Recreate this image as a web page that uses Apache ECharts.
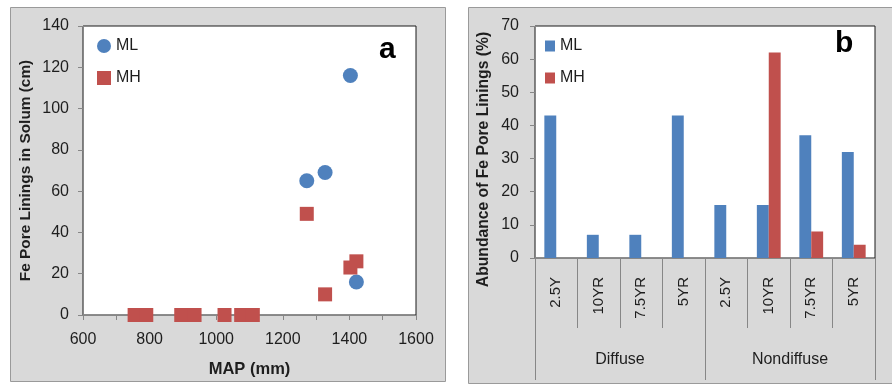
<!DOCTYPE html>
<html>
<head>
<meta charset="utf-8">
<script src="https://cdn.jsdelivr.net/npm/echarts@6/dist/echarts.min.js"></script>
<style>
  html, body { margin: 0; padding: 0; background: #ffffff; }
  #chart { width: 892px; height: 386px; }
</style>
</head>
<body>
<div id="chart"></div>
<script>
// Panel a: Fe pore linings in solum vs. mean annual precipitation
const mlMap = [1272, 1327, 1403, 1421];
const mlDepth = [65, 69, 116, 16];
const mhMap = [755, 790, 895, 935, 1025, 1075, 1110, 1272, 1327, 1403, 1421];
const mhDepth = [0, 0, 0, 0, 0, 0, 0, 49, 10, 23, 26];

// Panel b: abundance of Fe pore linings by hue and boundary type
const hueLabels = ['2.5Y', '10YR', '7.5YR', '5YR', '2.5Y', '10YR', '7.5YR', '5YR'];
const boundaryGroups = ['Diffuse', 'Nondiffuse'];
const mlAbundance = [43, 7, 7, 43, 16, 16, 37, 32];
const mhAbundance = [0, 0, 0, 0, 0, 62, 8, 4];

const BLUE = '#4F81BD';
const RED = '#C0504D';
const FONT = 'Liberation Sans';
const TXT = '#1e1e1e';
const AXIS = '#878787';

const pairs = (xs, ys) => xs.map((x, i) => [x, ys[i]]);

const chart = echarts.init(document.getElementById('chart'), null, { renderer: 'canvas' });

chart.setOption({
  animation: false,
  textStyle: { fontFamily: FONT },
  graphic: [
    { type: 'rect', z: -10, shape: { x: 10.5, y: 7.5, width: 435, height: 374 },
      style: { fill: '#D9D9D9', stroke: '#9a9a9a', lineWidth: 1 } },
    { type: 'rect', z: -10, shape: { x: 468.5, y: 7.5, width: 430, height: 376 },
      style: { fill: '#D9D9D9', stroke: '#9a9a9a', lineWidth: 1 } },
    { type: 'text', left: 379, top: 35, z: 10,
      style: { text: 'a', font: 'bold 30px ' + FONT, fill: '#000' } },
    { type: 'text', left: 835, top: 29, z: 10,
      style: { text: 'b', font: 'bold 30px ' + FONT, fill: '#000' } },
    // panel b value-axis title, centred on the full panel height below the plot
    { type: 'text', x: 484, y: 159.5, rotation: Math.PI / 2, z: 10,
      style: { text: 'Abundance of Fe Pore Linings (%)', font: 'bold 15.7px ' + FONT,
               fill: TXT, align: 'center', verticalAlign: 'middle' } }
  ],
  legend: [
    { orient: 'vertical', left: 97, top: 38, padding: 0, itemWidth: 14, itemHeight: 14, itemGap: 16,
      textStyle: { fontSize: 16, color: TXT, fontFamily: FONT },
      data: ['ML', 'MH'].map(n => ({ name: n })),
      selectedMode: false },
    { orient: 'vertical', left: 545, top: 38, padding: 0, itemWidth: 10, itemHeight: 11, itemGap: 16,
      textStyle: { fontSize: 16, color: TXT, fontFamily: FONT },
      data: [{ name: 'ML ', icon: 'rect' }, { name: 'MH ', icon: 'rect' }],
      formatter: n => n.trim(),
      selectedMode: false }
  ],
  grid: [
    { left: 83, top: 26, width: 333, height: 289, show: true,
      backgroundColor: '#ffffff', borderColor: '#1a1a1a', borderWidth: 1 },
    { left: 535, top: 26, width: 340, height: 232, show: true,
      backgroundColor: '#ffffff', borderColor: '#1a1a1a', borderWidth: 1 }
  ],
  xAxis: [
    { type: 'value', gridIndex: 0, min: 600, max: 1600, interval: 200,
      name: 'MAP (mm)', nameLocation: 'middle', nameGap: 46,
      nameTextStyle: { fontSize: 16.5, fontWeight: 'bold', color: TXT },
      axisLine: { lineStyle: { color: AXIS } },
      axisTick: { show: true, length: 5, lineStyle: { color: AXIS } },
      minorTick: { show: true, splitNumber: 2, length: 5, lineStyle: { color: AXIS } },
      splitLine: { show: false },
      axisLabel: { fontSize: 16, color: TXT, margin: 17, formatter: v => String(v) } },
    { type: 'category', gridIndex: 1, data: hueLabels, position: 'bottom',
      axisLine: { lineStyle: { color: AXIS } },
      axisTick: { show: true, length: 70, lineStyle: { color: AXIS } },
      axisLabel: { rotate: 90, fontSize: 15, color: TXT, margin: 19, interval: 0 } },
    { type: 'category', gridIndex: 1, data: boundaryGroups, position: 'bottom',
      axisLine: { show: false },
      axisTick: { show: true, length: 122, lineStyle: { color: AXIS } },
      axisLabel: { fontSize: 16, color: TXT, margin: 94 } }
  ],
  yAxis: [
    { type: 'value', gridIndex: 0, min: 0, max: 140, interval: 20,
      name: 'Fe Pore Linings in Solum (cm)', nameLocation: 'middle', nameGap: 50,
      nameTextStyle: { fontSize: 15.4, fontWeight: 'bold', color: TXT },
      axisLine: { show: true, lineStyle: { color: AXIS } },
      axisTick: { show: true, length: 5, lineStyle: { color: AXIS } },
      splitLine: { show: false },
      axisLabel: { fontSize: 16, color: TXT, margin: 14 } },
    { type: 'value', gridIndex: 1, min: 0, max: 70, interval: 10,
      axisLine: { show: true, lineStyle: { color: AXIS } },
      axisTick: { show: true, length: 5, lineStyle: { color: AXIS } },
      splitLine: { show: false },
      axisLabel: { fontSize: 16, color: TXT, margin: 16 } }
  ],
  series: [
    { name: 'ML', type: 'scatter', xAxisIndex: 0, yAxisIndex: 0, symbol: 'circle', symbolSize: 15,
      itemStyle: { color: BLUE, opacity: 1 },
      data: pairs(mlMap, mlDepth) },
    { name: 'MH', type: 'scatter', xAxisIndex: 0, yAxisIndex: 0, symbol: 'rect', symbolSize: 14,
      itemStyle: { color: RED, opacity: 1 },
      data: pairs(mhMap, mhDepth) },
    { name: 'ML ', type: 'bar', xAxisIndex: 1, yAxisIndex: 1,
      barGap: '0%', barCategoryGap: '44%',
      itemStyle: { color: BLUE }, data: mlAbundance },
    { name: 'MH ', type: 'bar', xAxisIndex: 1, yAxisIndex: 1,
      barGap: '0%', barCategoryGap: '44%',
      itemStyle: { color: RED }, data: mhAbundance }
  ]
});
</script>
</body>
</html>
